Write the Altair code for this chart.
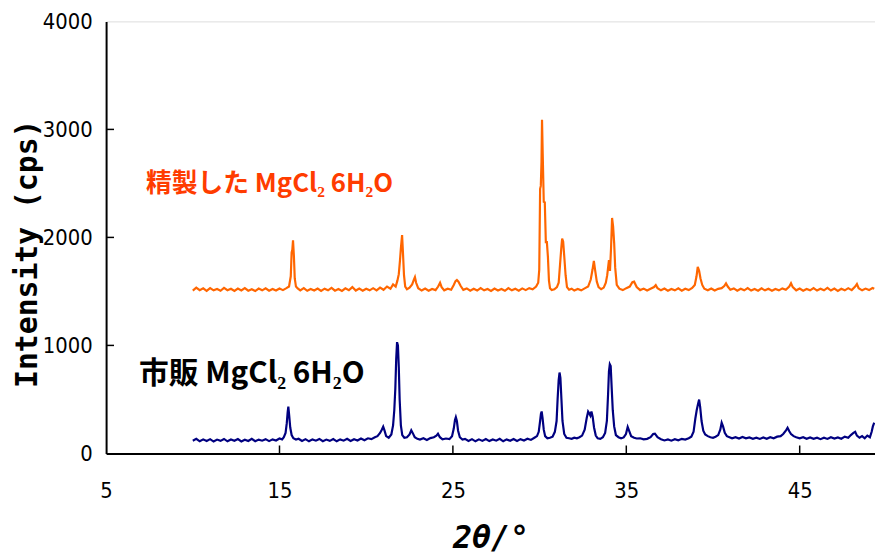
import altair as alt
import pandas as pd

# 2θ (deg), intensity (cps) — refined MgCl2·6H2O (orange, offset trace)
refined = [
    (10.0,1508),(10.2,1535),(10.4,1512),(10.6,1528),(10.8,1505),(11.0,1530),(11.2,1510),(11.4,1522),
    (11.6,1506),(11.8,1532),(12.0,1511),(12.2,1524),(12.4,1504),(12.6,1527),(12.8,1509),(13.0,1531),
    (13.2,1507),(13.4,1520),(13.6,1503),(13.8,1526),(14.0,1510),(14.2,1529),(14.4,1506),(14.6,1523),
    (14.8,1508),(15.0,1527),(15.2,1512),(15.4,1530),(15.55,1545),(15.65,1640),(15.7,1860),(15.74,1885),
    (15.78,1972),(15.83,1830),(15.88,1620),(15.95,1545),(16.05,1528),(16.2,1510),(16.4,1530),(16.6,1506),
    (16.8,1522),(17.0,1508),(17.2,1527),(17.4,1504),(17.6,1525),(17.8,1510),(18.0,1532),(18.2,1507),
    (18.4,1522),(18.6,1505),(18.8,1528),(19.0,1511),(19.2,1540),(19.4,1508),(19.6,1526),(19.8,1506),
    (20.0,1524),(20.2,1510),(20.4,1530),(20.6,1509),(20.8,1535),(21.0,1515),(21.2,1545),(21.4,1525),
    (21.55,1565),(21.7,1545),(21.8,1600),(21.88,1660),(21.95,1789),(22.0,1900),(22.07,2021),(22.12,1860),
    (22.18,1650),(22.25,1545),(22.35,1520),(22.5,1535),(22.65,1565),(22.75,1610),(22.81,1633),(22.88,1580),
    (23.0,1530),(23.2,1508),(23.4,1526),(23.6,1506),(23.8,1522),(24.0,1512),(24.15,1545),(24.26,1580),
    (24.35,1540),(24.5,1510),(24.7,1525),(24.9,1515),(25.05,1560),(25.15,1595),(25.23,1605),(25.32,1590),
    (25.45,1550),(25.6,1515),(25.8,1528),(26.0,1506),(26.2,1524),(26.4,1508),(26.6,1530),(26.8,1510),
    (27.0,1523),(27.2,1505),(27.4,1527),(27.6,1509),(27.8,1522),(28.0,1506),(28.2,1530),(28.4,1510),
    (28.6,1525),(28.8,1507),(29.0,1528),(29.2,1512),(29.4,1530),(29.6,1520),(29.8,1545),(29.92,1580),
    (29.98,1700),(30.03,2450),(30.07,2477),(30.11,2700),(30.14,3089),(30.18,2771),(30.24,2330),(30.3,2324),
    (30.36,1957),(30.42,1957),(30.48,1820),(30.54,1600),(30.6,1530),(30.7,1512),(30.85,1520),(31.0,1540),
    (31.1,1580),(31.18,1750),(31.25,1900),(31.3,1990),(31.36,1960),(31.42,1830),(31.5,1650),(31.58,1540),
    (31.7,1515),(31.85,1525),(32.0,1508),(32.2,1522),(32.4,1510),(32.6,1528),(32.8,1545),(32.95,1610),
    (33.05,1700),(33.13,1783),(33.2,1700),(33.3,1590),(33.4,1540),(33.55,1520),(33.7,1535),(33.82,1580),
    (33.9,1650),(34.0,1789),(34.06,1690),(34.12,1900),(34.18,2180),(34.24,2100),(34.3,1950),(34.36,1720),
    (34.45,1560),(34.6,1525),(34.8,1512),(35.0,1530),(35.2,1545),(35.35,1585),(35.45,1590),(35.6,1540),
    (35.8,1512),(36.0,1526),(36.2,1508),(36.4,1524),(36.6,1540),(36.7,1558),(36.8,1530),(37.0,1510),
    (37.2,1526),(37.4,1506),(37.6,1522),(37.8,1510),(38.0,1528),(38.2,1507),(38.4,1524),(38.6,1512),
    (38.8,1532),(38.95,1560),(39.05,1640),(39.12,1727),(39.2,1690),(39.28,1620),(39.38,1560),(39.5,1525),
    (39.7,1510),(39.9,1527),(40.1,1508),(40.3,1524),(40.5,1530),(40.65,1550),(40.75,1575),(40.85,1545),
    (41.0,1515),(41.2,1528),(41.4,1506),(41.6,1524),(41.8,1510),(42.0,1530),(42.2,1508),(42.4,1522),
    (42.6,1506),(42.8,1528),(43.0,1510),(43.2,1525),(43.4,1506),(43.6,1523),(43.8,1510),(44.0,1528),
    (44.2,1515),(44.4,1545),(44.5,1575),(44.6,1540),(44.8,1510),(45.0,1526),(45.2,1506),(45.4,1522),
    (45.6,1510),(45.8,1530),(46.0,1508),(46.2,1524),(46.4,1510),(46.6,1532),(46.8,1508),(47.0,1526),
    (47.2,1505),(47.4,1524),(47.6,1510),(47.8,1530),(48.0,1512),(48.2,1545),(48.3,1568),(48.4,1530),
    (48.6,1510),(48.8,1526),(49.0,1512),(49.2,1532),(49.3,1525),
]

# commercial MgCl2·6H2O (navy)
commercial = [
    (10.0,118),(10.2,135),(10.4,112),(10.6,130),(10.8,115),(11.0,132),(11.2,110),(11.4,128),(11.6,116),
    (11.8,134),(12.0,112),(12.2,129),(12.4,117),(12.6,133),(12.8,111),(13.0,127),(13.2,115),(13.4,135),
    (13.6,113),(13.8,128),(14.0,118),(14.2,132),(14.4,114),(14.6,130),(14.8,120),(15.0,138),(15.15,130),
    (15.25,150),(15.35,190),(15.42,280),(15.47,380),(15.51,434),(15.56,350),(15.62,240),(15.7,170),
    (15.8,140),(15.95,128),(16.1,136),(16.3,115),(16.5,132),(16.7,112),(16.9,130),(17.1,118),(17.3,134),
    (17.5,113),(17.7,128),(17.9,116),(18.1,133),(18.3,112),(18.5,130),(18.7,118),(18.9,135),(19.1,115),
    (19.3,131),(19.5,120),(19.7,138),(19.9,122),(20.1,140),(20.3,132),(20.5,150),(20.65,160),(20.8,190),
    (20.9,220),(20.98,248),(21.05,215),(21.15,160),(21.3,145),(21.45,175),(21.55,260),(21.62,400),
    (21.68,600),(21.73,871),(21.78,1030),(21.83,1000),(21.88,800),(21.93,500),(22.0,260),(22.08,170),
    (22.2,145),(22.35,150),(22.5,175),(22.6,214),(22.68,190),(22.8,150),(22.95,135),(23.1,128),(23.3,140),
    (23.5,125),(23.7,142),(23.9,150),(24.05,165),(24.14,183),(24.25,150),(24.4,130),(24.6,138),(24.8,132),
    (24.95,160),(25.05,230),(25.12,310),(25.17,336),(25.23,300),(25.3,210),(25.4,150),(25.55,128),
    (25.7,135),(25.9,115),(26.1,132),(26.3,112),(26.5,130),(26.7,116),(26.9,133),(27.1,114),(27.3,129),
    (27.5,118),(27.7,135),(27.9,112),(28.1,130),(28.3,117),(28.5,134),(28.7,115),(28.9,132),(29.1,120),
    (29.3,136),(29.5,125),(29.7,145),(29.85,160),(29.95,200),(30.03,300),(30.08,370),(30.12,388),
    (30.17,330),(30.24,220),(30.32,160),(30.45,140),(30.6,145),(30.75,155),(30.88,200),(30.98,300),
    (31.04,505),(31.1,680),(31.15,749),(31.2,700),(31.26,500),(31.32,300),(31.42,180),(31.55,145),
    (31.7,140),(31.85,135),(32.0,145),(32.15,140),(32.3,150),(32.45,165),(32.6,220),(32.72,330),
    (32.8,388),(32.87,370),(32.93,350),(32.99,388),(33.06,340),(33.14,240),(33.24,165),(33.35,140),
    (33.5,135),(33.65,150),(33.78,190),(33.88,300),(33.95,550),(34.0,760),(34.05,826),(34.1,810),
    (34.16,600),(34.22,400),(34.3,250),(34.4,170),(34.55,150),(34.7,140),(34.85,148),(34.98,180),
    (35.08,245),(35.16,210),(35.28,160),(35.45,145),(35.6,138),(35.8,140),(36.0,130),(36.2,135),
    (36.4,150),(36.55,180),(36.65,183),(36.8,150),(37.0,132),(37.2,120),(37.4,130),(37.6,118),(37.8,132),
    (38.0,122),(38.2,135),(38.4,128),(38.6,140),(38.75,155),(38.88,200),(38.98,321),(39.06,400),
    (39.14,460),(39.2,498),(39.26,430),(39.34,300),(39.44,210),(39.55,175),(39.7,160),(39.85,150),
    (40.0,145),(40.15,155),(40.3,170),(40.42,220),(40.5,284),(40.58,250),(40.68,190),(40.8,160),
    (40.95,150),(41.1,140),(41.3,150),(41.5,138),(41.7,152),(41.9,140),(42.1,148),(42.3,136),(42.5,146),
    (42.7,134),(42.9,148),(43.1,136),(43.3,150),(43.5,140),(43.7,155),(43.9,160),(44.05,180),(44.2,210),
    (44.3,238),(44.4,205),(44.5,180),(44.65,160),(44.8,150),(45.0,140),(45.2,150),(45.4,136),(45.6,148),
    (45.8,135),(46.0,146),(46.2,132),(46.4,145),(46.6,134),(46.8,150),(47.0,138),(47.2,148),(47.4,136),
    (47.6,155),(47.8,145),(47.95,170),(48.1,190),(48.2,200),(48.3,165),(48.45,145),(48.6,160),
    (48.75,140),(48.9,165),(49.05,150),(49.15,200),(49.22,250),(49.3,284),
]

series_names = ["refined", "commercial"]
series_colors = ["#FF6600", "#000080"]

x_ticks = [5, 15, 25, 35, 45]
y_ticks = [0, 1000, 2000, 3000, 4000]
inner_x_ticks = [15, 25, 35, 45]
inner_y_ticks = [1000, 2000, 3000]

label_texts = ["精製した MgCl₂ 6H₂O", "市販 MgCl₂  6H₂O"]
label_x = [7.3, 6.9]
label_y = [2495, 735]

rows = [{"tt": a, "cps": b, "s": "refined"} for a, b in refined] + \
       [{"tt": a, "cps": b, "s": "commercial"} for a, b in commercial]
df = pd.DataFrame(rows)

xscale = alt.Scale(domain=[5, 49.343], nice=False, zero=False)
yscale = alt.Scale(domain=[0, 4000], nice=False)

tick_font = "DejaVu Sans Condensed, Liberation Sans Narrow, Liberation Sans"

lines = alt.Chart(df).mark_line(strokeWidth=2.2, clip=True).encode(
    x=alt.X("tt:Q", scale=xscale,
            axis=alt.Axis(values=x_ticks, format="d", title="2θ/°", grid=False, ticks=False,
                          labelFont=tick_font, labelFontSize=22, labelColor="#000",
                          labelPadding=27, domainColor="#000", domainWidth=2,
                          titleFont="DejaVu Sans Mono", titleFontSize=32, titleFontWeight="bold",
                          titleFontStyle="italic",
                          titleColor="#000", titleX=388, titleY=85, titleBaseline="middle",
                          labelFlush=False)),
    y=alt.Y("cps:Q", scale=yscale,
            axis=alt.Axis(values=y_ticks, format="d", title="Intensity (cps)", grid=False, ticks=False,
                          labelFont=tick_font, labelFontSize=22, labelColor="#000",
                          labelPadding=14, domainColor="#000", domainWidth=2,
                          titleFont="DejaVu Sans Mono", titleFontSize=30, titleFontWeight="bold",
                          titleColor="#000", titleX=-79, titleY=234, titleBaseline="middle",
                          titleAngle=270, labelFlush=False)),
    color=alt.Color("s:N", scale=alt.Scale(domain=series_names, range=series_colors), legend=None),
    detail="s:N",
)

ytick_df = pd.DataFrame({"v": inner_y_ticks})
xtick_df = pd.DataFrame({"v": inner_x_ticks})

yt = alt.Chart(ytick_df).mark_rule(color="#000", strokeWidth=1.5).encode(
    y=alt.Y("v:Q", scale=yscale), x=alt.value(0), x2=alt.value(8))
xt = alt.Chart(xtick_df).mark_rule(color="#000", strokeWidth=1.5).encode(
    x=alt.X("v:Q", scale=xscale), y=alt.value(436), y2=alt.value(428))

lab1 = alt.Chart(pd.DataFrame({"t": [label_texts[0]], "x": [label_x[0]], "y": [label_y[0]]})).mark_text(
    align="left", baseline="middle", font="Noto Sans CJK JP", fontSize=26, fontWeight="bold",
    color="#FF3C00").encode(x=alt.X("x:Q", scale=xscale), y=alt.Y("y:Q", scale=yscale), text="t:N")
lab2 = alt.Chart(pd.DataFrame({"t": [label_texts[1]], "x": [label_x[1]], "y": [label_y[1]]})).mark_text(
    align="left", baseline="middle", font="Noto Sans CJK JP", fontSize=30, fontWeight="bold",
    color="#000").encode(x=alt.X("x:Q", scale=xscale), y=alt.Y("y:Q", scale=yscale), text="t:N")

chart = alt.layer(lines, yt, xt, lab1, lab2).properties(
    width=776, height=436,
    padding={"left": 99, "top": 11, "right": 0, "bottom": 100},
    autosize=alt.AutoSizeParams(type="none"),
).configure_view(stroke=None).configure(background="white")

chart.save("out.html", embed_options={"renderer": "svg", "actions": False})
